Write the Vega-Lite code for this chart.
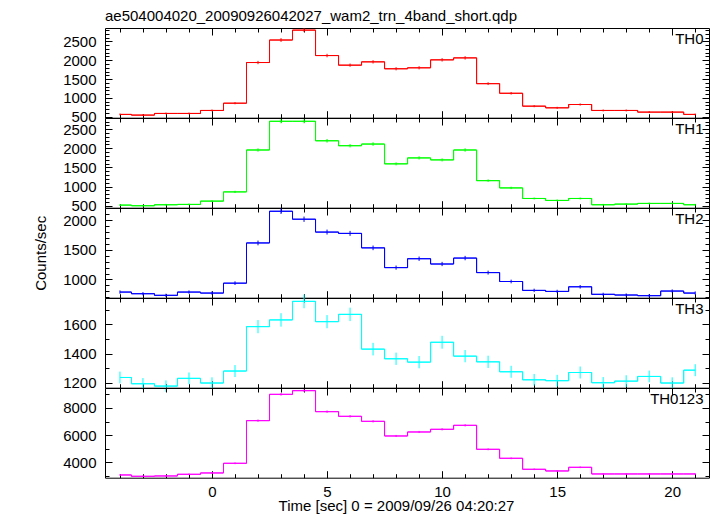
{
  "$schema": "https://vega.github.io/schema/vega-lite/v6.json",
  "padding": {"left": 33, "top": 8, "right": 5, "bottom": 5},
  "background": "white",
  "spacing": 0,
  "bounds": "flush",
  "config": {
    "font": "Liberation Sans",
    "view": {"stroke": "black", "strokeWidth": 1},
    "axis": {"domain": false, "grid": false, "tickColor": "black", "labelColor": "black", "labelFontSize": 15, "titleFontSize": 15, "titleFontWeight": "normal", "titleColor": "black", "labelFont": "Liberation Sans", "titleFont": "Liberation Sans", "format": "d"}
  },
  "data": {"values": [
    {"band":"TH0","t":-4,"rate":562,"err":24},{"band":"TH0","t":-3,"rate":544,"err":23},{"band":"TH0","t":-2,"rate":588,"err":24},{"band":"TH0","t":-1,"rate":588,"err":24},{"band":"TH0","t":0,"rate":667,"err":26},{"band":"TH0","t":1,"rate":860,"err":29},{"band":"TH0","t":2,"rate":1939,"err":44},{"band":"TH0","t":3,"rate":2536,"err":50},{"band":"TH0","t":4,"rate":2799,"err":53},{"band":"TH0","t":5,"rate":2124,"err":46},{"band":"TH0","t":6,"rate":1869,"err":43},{"band":"TH0","t":7,"rate":1957,"err":44},{"band":"TH0","t":8,"rate":1773,"err":42},{"band":"TH0","t":9,"rate":1799,"err":42},{"band":"TH0","t":10,"rate":2010,"err":45},{"band":"TH0","t":11,"rate":2062,"err":45},{"band":"TH0","t":12,"rate":1378,"err":37},{"band":"TH0","t":13,"rate":1123,"err":34},{"band":"TH0","t":14,"rate":781,"err":28},{"band":"TH0","t":15,"rate":737,"err":27},{"band":"TH0","t":16,"rate":825,"err":29},{"band":"TH0","t":17,"rate":667,"err":26},{"band":"TH0","t":18,"rate":667,"err":26},{"band":"TH0","t":19,"rate":623,"err":25},{"band":"TH0","t":20,"rate":623,"err":25},{"band":"TH0","t":21,"rate":562,"err":24},
    {"band":"TH1","t":-4,"rate":516,"err":23},{"band":"TH1","t":-3,"rate":499,"err":22},{"band":"TH1","t":-2,"rate":525,"err":23},{"band":"TH1","t":-1,"rate":534,"err":23},{"band":"TH1","t":0,"rate":620,"err":25},{"band":"TH1","t":1,"rate":861,"err":29},{"band":"TH1","t":2,"rate":1956,"err":44},{"band":"TH1","t":3,"rate":2706,"err":52},{"band":"TH1","t":4,"rate":2706,"err":52},{"band":"TH1","t":5,"rate":2197,"err":47},{"band":"TH1","t":6,"rate":2068,"err":45},{"band":"TH1","t":7,"rate":2111,"err":46},{"band":"TH1","t":8,"rate":1594,"err":40},{"band":"TH1","t":9,"rate":1749,"err":42},{"band":"TH1","t":10,"rate":1697,"err":41},{"band":"TH1","t":11,"rate":1956,"err":44},{"band":"TH1","t":12,"rate":1155,"err":34},{"band":"TH1","t":13,"rate":965,"err":31},{"band":"TH1","t":14,"rate":689,"err":26},{"band":"TH1","t":15,"rate":638,"err":25},{"band":"TH1","t":16,"rate":689,"err":26},{"band":"TH1","t":17,"rate":525,"err":23},{"band":"TH1","t":18,"rate":542,"err":23},{"band":"TH1","t":19,"rate":560,"err":24},{"band":"TH1","t":20,"rate":560,"err":24},{"band":"TH1","t":21,"rate":525,"err":23},
    {"band":"TH2","t":-4,"rate":788,"err":28},{"band":"TH2","t":-3,"rate":760,"err":28},{"band":"TH2","t":-2,"rate":733,"err":27},{"band":"TH2","t":-1,"rate":788,"err":28},{"band":"TH2","t":0,"rate":771,"err":28},{"band":"TH2","t":1,"rate":938,"err":31},{"band":"TH2","t":2,"rate":1616,"err":40},{"band":"TH2","t":3,"rate":2150,"err":46},{"band":"TH2","t":4,"rate":2016,"err":45},{"band":"TH2","t":5,"rate":1799,"err":42},{"band":"TH2","t":6,"rate":1777,"err":42},{"band":"TH2","t":7,"rate":1533,"err":39},{"band":"TH2","t":8,"rate":1200,"err":35},{"band":"TH2","t":9,"rate":1350,"err":37},{"band":"TH2","t":10,"rate":1261,"err":36},{"band":"TH2","t":11,"rate":1361,"err":37},{"band":"TH2","t":12,"rate":1116,"err":33},{"band":"TH2","t":13,"rate":966,"err":31},{"band":"TH2","t":14,"rate":816,"err":29},{"band":"TH2","t":15,"rate":799,"err":28},{"band":"TH2","t":16,"rate":877,"err":30},{"band":"TH2","t":17,"rate":750,"err":27},{"band":"TH2","t":18,"rate":738,"err":27},{"band":"TH2","t":19,"rate":727,"err":27},{"band":"TH2","t":20,"rate":805,"err":28},{"band":"TH2","t":21,"rate":771,"err":28},
    {"band":"TH3","t":-4,"rate":1236,"err":40},{"band":"TH3","t":-3,"rate":1193,"err":39},{"band":"TH3","t":-2,"rate":1177,"err":39},{"band":"TH3","t":-1,"rate":1230,"err":40},{"band":"TH3","t":0,"rate":1198,"err":39},{"band":"TH3","t":1,"rate":1280,"err":41},{"band":"TH3","t":2,"rate":1584,"err":45},{"band":"TH3","t":3,"rate":1630,"err":46},{"band":"TH3","t":4,"rate":1757,"err":47},{"band":"TH3","t":5,"rate":1618,"err":45},{"band":"TH3","t":6,"rate":1668,"err":46},{"band":"TH3","t":7,"rate":1430,"err":43},{"band":"TH3","t":8,"rate":1364,"err":42},{"band":"TH3","t":9,"rate":1341,"err":42},{"band":"TH3","t":10,"rate":1477,"err":44},{"band":"TH3","t":11,"rate":1382,"err":42},{"band":"TH3","t":12,"rate":1343,"err":42},{"band":"TH3","t":13,"rate":1275,"err":41},{"band":"TH3","t":14,"rate":1220,"err":40},{"band":"TH3","t":15,"rate":1214,"err":40},{"band":"TH3","t":16,"rate":1270,"err":41},{"band":"TH3","t":17,"rate":1200,"err":39},{"band":"TH3","t":18,"rate":1211,"err":40},{"band":"TH3","t":19,"rate":1243,"err":40},{"band":"TH3","t":20,"rate":1198,"err":39},{"band":"TH3","t":21,"rate":1286,"err":41},
    {"band":"TH0123","t":-4,"rate":3069,"err":55},{"band":"TH0123","t":-3,"rate":2971,"err":55},{"band":"TH0123","t":-2,"rate":2995,"err":55},{"band":"TH0123","t":-1,"rate":3118,"err":56},{"band":"TH0123","t":0,"rate":3216,"err":57},{"band":"TH0123","t":1,"rate":3928,"err":63},{"band":"TH0123","t":2,"rate":7068,"err":84},{"band":"TH0123","t":3,"rate":9006,"err":95},{"band":"TH0123","t":4,"rate":9276,"err":96},{"band":"TH0123","t":5,"rate":7730,"err":88},{"band":"TH0123","t":6,"rate":7387,"err":86},{"band":"TH0123","t":7,"rate":7019,"err":84},{"band":"TH0123","t":8,"rate":5939,"err":77},{"band":"TH0123","t":9,"rate":6234,"err":79},{"band":"TH0123","t":10,"rate":6430,"err":80},{"band":"TH0123","t":11,"rate":6724,"err":82},{"band":"TH0123","t":12,"rate":4958,"err":70},{"band":"TH0123","t":13,"rate":4296,"err":66},{"band":"TH0123","t":14,"rate":3486,"err":59},{"band":"TH0123","t":15,"rate":3363,"err":58},{"band":"TH0123","t":16,"rate":3633,"err":60},{"band":"TH0123","t":17,"rate":3142,"err":56},{"band":"TH0123","t":18,"rate":3142,"err":56},{"band":"TH0123","t":19,"rate":3142,"err":56},{"band":"TH0123","t":20,"rate":3142,"err":56},{"band":"TH0123","t":21,"rate":3142,"err":56}
  ]},
  "vconcat": [
    {
      "width": 604, "height": 89.7,
      "title": {"text": "ae504004020_20090926042027_wam2_trn_4band_short.qdp", "anchor": "start", "frame": "group", "offset": 4, "fontSize": 15, "fontWeight": "normal", "color": "black"},
      "transform": [{"filter": "datum.band === 'TH0'"}],
      "resolve": {"axis": {"x": "independent", "y": "independent"}},
      "layer": [
        {"mark": {"type": "line", "interpolate": "step", "color": "#ff0000", "strokeWidth": 1},
         "encoding": {
           "x": {"field": "t", "type": "quantitative", "scale": {"domain": [-4.65, 21.6], "nice": false, "zero": false}, "axis": {"orient": "bottom", "values": [0,5,10,15,20], "tickSize": -7, "labels": false, "title": null}},
           "y": {"field": "rate", "type": "quantitative", "scale": {"domain": [475, 2855], "nice": false, "zero": false}, "axis": {"orient": "left", "values": [500,1000,1500,2000,2500], "tickSize": -7, "labelPadding": 16, "title": null}}}},
        {"mark": {"type": "errorbar", "color": "#ff0000"},
         "encoding": {
           "x": {"field": "t", "type": "quantitative", "axis": {"orient": "bottom", "values": [-4,-3,-2,-1,0,1,2,3,4,5,6,7,8,9,10,11,12,13,14,15,16,17,18,19,20,21], "tickSize": -4, "labels": false, "title": null}},
           "xError": {"value": 0.5},
           "y": {"field": "rate", "type": "quantitative", "axis": {"orient": "left", "values": [500,600,700,800,900,1000,1100,1200,1300,1400,1500,1600,1700,1800,1900,2000,2100,2200,2300,2400,2500,2600,2700,2800], "tickSize": -4, "labels": false, "title": null}}}},
        {"mark": {"type": "errorbar", "color": "#ff0000"},
         "encoding": {
           "x": {"field": "t", "type": "quantitative", "axis": {"orient": "top", "values": [0,5,10,15,20], "tickSize": -7, "labels": false, "title": null}},
           "y": {"field": "rate", "type": "quantitative", "axis": {"orient": "right", "values": [500,1000,1500,2000,2500], "tickSize": -7, "labels": false, "title": "TH0", "titleAngle": 0, "titleAlign": "right", "titleBaseline": "alphabetic", "titleX": -6, "titleY": 15}},
           "yError": {"field": "err"}}},
        {"mark": {"type": "line", "interpolate": "step", "color": "#ff0000", "strokeWidth": 1},
         "encoding": {
           "x": {"field": "t", "type": "quantitative", "axis": {"orient": "top", "values": [-4,-3,-2,-1,0,1,2,3,4,5,6,7,8,9,10,11,12,13,14,15,16,17,18,19,20,21], "tickSize": -4, "labels": false, "title": null}},
           "y": {"field": "rate", "type": "quantitative", "axis": {"orient": "right", "values": [500,600,700,800,900,1000,1100,1200,1300,1400,1500,1600,1700,1800,1900,2000,2100,2200,2300,2400,2500,2600,2700,2800], "tickSize": -4, "labels": false, "title": null}}}}
      ]
    },
    {
      "width": 604, "height": 89.7,
      "transform": [{"filter": "datum.band === 'TH1'"}],
      "resolve": {"axis": {"x": "independent", "y": "independent"}},
      "layer": [
        {"mark": {"type": "line", "interpolate": "step", "color": "#00ff00", "strokeWidth": 1},
         "encoding": {
           "x": {"field": "t", "type": "quantitative", "scale": {"domain": [-4.65, 21.6], "nice": false, "zero": false}, "axis": {"orient": "bottom", "values": [0,5,10,15,20], "tickSize": -7, "labels": false, "title": null}},
           "y": {"field": "rate", "type": "quantitative", "scale": {"domain": [448, 2792], "nice": false, "zero": false}, "axis": {"orient": "left", "values": [500,1000,1500,2000,2500], "tickSize": -7, "labelPadding": 16, "title": null}}}},
        {"mark": {"type": "errorbar", "color": "#00ff00"},
         "encoding": {
           "x": {"field": "t", "type": "quantitative", "axis": {"orient": "bottom", "values": [-4,-3,-2,-1,0,1,2,3,4,5,6,7,8,9,10,11,12,13,14,15,16,17,18,19,20,21], "tickSize": -4, "labels": false, "title": null}},
           "xError": {"value": 0.5},
           "y": {"field": "rate", "type": "quantitative", "axis": {"orient": "left", "values": [500,600,700,800,900,1000,1100,1200,1300,1400,1500,1600,1700,1800,1900,2000,2100,2200,2300,2400,2500,2600,2700], "tickSize": -4, "labels": false, "title": null}}}},
        {"mark": {"type": "errorbar", "color": "#00ff00"},
         "encoding": {
           "x": {"field": "t", "type": "quantitative", "axis": {"orient": "top", "values": [0,5,10,15,20], "tickSize": -7, "labels": false, "title": null}},
           "y": {"field": "rate", "type": "quantitative", "axis": {"orient": "right", "values": [500,1000,1500,2000,2500], "tickSize": -7, "labels": false, "title": "TH1", "titleAngle": 0, "titleAlign": "right", "titleBaseline": "alphabetic", "titleX": -6, "titleY": 15}},
           "yError": {"field": "err"}}},
        {"mark": {"type": "line", "interpolate": "step", "color": "#00ff00", "strokeWidth": 1},
         "encoding": {
           "x": {"field": "t", "type": "quantitative", "axis": {"orient": "top", "values": [-4,-3,-2,-1,0,1,2,3,4,5,6,7,8,9,10,11,12,13,14,15,16,17,18,19,20,21], "tickSize": -4, "labels": false, "title": null}},
           "y": {"field": "rate", "type": "quantitative", "axis": {"orient": "right", "values": [500,600,700,800,900,1000,1100,1200,1300,1400,1500,1600,1700,1800,1900,2000,2100,2200,2300,2400,2500,2600,2700], "tickSize": -4, "labels": false, "title": null}}}}
      ]
    },
    {
      "width": 604, "height": 89.7,
      "transform": [{"filter": "datum.band === 'TH2'"}],
      "resolve": {"axis": {"x": "independent", "y": "independent"}},
      "layer": [
        {"mark": {"type": "line", "interpolate": "step", "color": "#0000ff", "strokeWidth": 1},
         "encoding": {
           "x": {"field": "t", "type": "quantitative", "scale": {"domain": [-4.65, 21.6], "nice": false, "zero": false}, "axis": {"orient": "bottom", "values": [0,5,10,15,20], "tickSize": -7, "labels": false, "title": null}},
           "y": {"field": "rate", "type": "quantitative", "scale": {"domain": [693, 2205], "nice": false, "zero": false}, "axis": {"orient": "left", "values": [1000,1500,2000], "tickSize": -7, "labelPadding": 16, "title": "Counts/sec", "titlePadding": 14}}}},
        {"mark": {"type": "errorbar", "color": "#0000ff"},
         "encoding": {
           "x": {"field": "t", "type": "quantitative", "axis": {"orient": "bottom", "values": [-4,-3,-2,-1,0,1,2,3,4,5,6,7,8,9,10,11,12,13,14,15,16,17,18,19,20,21], "tickSize": -4, "labels": false, "title": null}},
           "xError": {"value": 0.5},
           "y": {"field": "rate", "type": "quantitative", "axis": {"orient": "left", "values": [700,800,900,1000,1100,1200,1300,1400,1500,1600,1700,1800,1900,2000,2100,2200], "tickSize": -4, "labels": false, "title": null}}}},
        {"mark": {"type": "errorbar", "color": "#0000ff"},
         "encoding": {
           "x": {"field": "t", "type": "quantitative", "axis": {"orient": "top", "values": [0,5,10,15,20], "tickSize": -7, "labels": false, "title": null}},
           "y": {"field": "rate", "type": "quantitative", "axis": {"orient": "right", "values": [1000,1500,2000], "tickSize": -7, "labels": false, "title": "TH2", "titleAngle": 0, "titleAlign": "right", "titleBaseline": "alphabetic", "titleX": -6, "titleY": 15}},
           "yError": {"field": "err"}}},
        {"mark": {"type": "line", "interpolate": "step", "color": "#0000ff", "strokeWidth": 1},
         "encoding": {
           "x": {"field": "t", "type": "quantitative", "axis": {"orient": "top", "values": [-4,-3,-2,-1,0,1,2,3,4,5,6,7,8,9,10,11,12,13,14,15,16,17,18,19,20,21], "tickSize": -4, "labels": false, "title": null}},
           "y": {"field": "rate", "type": "quantitative", "axis": {"orient": "right", "values": [700,800,900,1000,1100,1200,1300,1400,1500,1600,1700,1800,1900,2000,2100,2200], "tickSize": -4, "labels": false, "title": null}}}}
      ]
    },
    {
      "width": 604, "height": 89.7,
      "transform": [{"filter": "datum.band === 'TH3'"}],
      "resolve": {"axis": {"x": "independent", "y": "independent"}},
      "layer": [
        {"mark": {"type": "line", "interpolate": "step", "color": "#00ffff", "strokeWidth": 1},
         "encoding": {
           "x": {"field": "t", "type": "quantitative", "scale": {"domain": [-4.65, 21.6], "nice": false, "zero": false}, "axis": {"orient": "bottom", "values": [0,5,10,15,20], "tickSize": -7, "labels": false, "title": null}},
           "y": {"field": "rate", "type": "quantitative", "scale": {"domain": [1166, 1780], "nice": false, "zero": false}, "axis": {"orient": "left", "values": [1200,1400,1600], "tickSize": -7, "labelPadding": 16, "title": null}}}},
        {"mark": {"type": "errorbar", "color": "#00ffff"},
         "encoding": {
           "x": {"field": "t", "type": "quantitative", "axis": {"orient": "bottom", "values": [-4,-3,-2,-1,0,1,2,3,4,5,6,7,8,9,10,11,12,13,14,15,16,17,18,19,20,21], "tickSize": -4, "labels": false, "title": null}},
           "xError": {"value": 0.5},
           "y": {"field": "rate", "type": "quantitative", "axis": {"orient": "left", "values": [1200,1300,1400,1500,1600,1700], "tickSize": -4, "labels": false, "title": null}}}},
        {"mark": {"type": "errorbar", "color": "#00ffff"},
         "encoding": {
           "x": {"field": "t", "type": "quantitative", "axis": {"orient": "top", "values": [0,5,10,15,20], "tickSize": -7, "labels": false, "title": null}},
           "y": {"field": "rate", "type": "quantitative", "axis": {"orient": "right", "values": [1200,1400,1600], "tickSize": -7, "labels": false, "title": "TH3", "titleAngle": 0, "titleAlign": "right", "titleBaseline": "alphabetic", "titleX": -6, "titleY": 15}},
           "yError": {"field": "err"}}},
        {"mark": {"type": "line", "interpolate": "step", "color": "#00ffff", "strokeWidth": 1},
         "encoding": {
           "x": {"field": "t", "type": "quantitative", "axis": {"orient": "top", "values": [-4,-3,-2,-1,0,1,2,3,4,5,6,7,8,9,10,11,12,13,14,15,16,17,18,19,20,21], "tickSize": -4, "labels": false, "title": null}},
           "y": {"field": "rate", "type": "quantitative", "axis": {"orient": "right", "values": [1200,1300,1400,1500,1600,1700], "tickSize": -4, "labels": false, "title": null}}}}
      ]
    },
    {
      "width": 604, "height": 89.7,
      "transform": [{"filter": "datum.band === 'TH0123'"}],
      "resolve": {"axis": {"x": "independent", "y": "independent"}},
      "layer": [
        {"mark": {"type": "line", "interpolate": "step", "color": "#ff00ff", "strokeWidth": 1},
         "encoding": {
           "x": {"field": "t", "type": "quantitative", "scale": {"domain": [-4.65, 21.6], "nice": false, "zero": false}, "axis": {"orient": "bottom", "values": [0,5,10,15,20], "tickSize": -7, "labelPadding": 14, "labelFlush": false, "title": "Time [sec] 0 = 2009/09/26 04:20:27", "titleX": 291, "titleY": 33, "titleBaseline": "alphabetic"}},
           "y": {"field": "rate", "type": "quantitative", "scale": {"domain": [2867, 9472], "nice": false, "zero": false}, "axis": {"orient": "left", "values": [4000,6000,8000], "tickSize": -7, "labelPadding": 16, "title": null}}}},
        {"mark": {"type": "errorbar", "color": "#ff00ff"},
         "encoding": {
           "x": {"field": "t", "type": "quantitative", "axis": {"orient": "bottom", "values": [-4,-3,-2,-1,0,1,2,3,4,5,6,7,8,9,10,11,12,13,14,15,16,17,18,19,20,21], "tickSize": -4, "labels": false, "title": null}},
           "xError": {"value": 0.5},
           "y": {"field": "rate", "type": "quantitative", "axis": {"orient": "left", "values": [3000,4000,5000,6000,7000,8000,9000], "tickSize": -4, "labels": false, "title": null}}}},
        {"mark": {"type": "errorbar", "color": "#ff00ff"},
         "encoding": {
           "x": {"field": "t", "type": "quantitative", "axis": {"orient": "top", "values": [0,5,10,15,20], "tickSize": -7, "labels": false, "title": null}},
           "y": {"field": "rate", "type": "quantitative", "axis": {"orient": "right", "values": [4000,6000,8000], "tickSize": -7, "labels": false, "title": "TH0123", "titleAngle": 0, "titleAlign": "right", "titleBaseline": "alphabetic", "titleX": -6, "titleY": 15}},
           "yError": {"field": "err"}}},
        {"mark": {"type": "line", "interpolate": "step", "color": "#ff00ff", "strokeWidth": 1},
         "encoding": {
           "x": {"field": "t", "type": "quantitative", "axis": {"orient": "top", "values": [-4,-3,-2,-1,0,1,2,3,4,5,6,7,8,9,10,11,12,13,14,15,16,17,18,19,20,21], "tickSize": -4, "labels": false, "title": null}},
           "y": {"field": "rate", "type": "quantitative", "axis": {"orient": "right", "values": [3000,4000,5000,6000,7000,8000,9000], "tickSize": -4, "labels": false, "title": null}}}}
      ]
    }
  ]
}
